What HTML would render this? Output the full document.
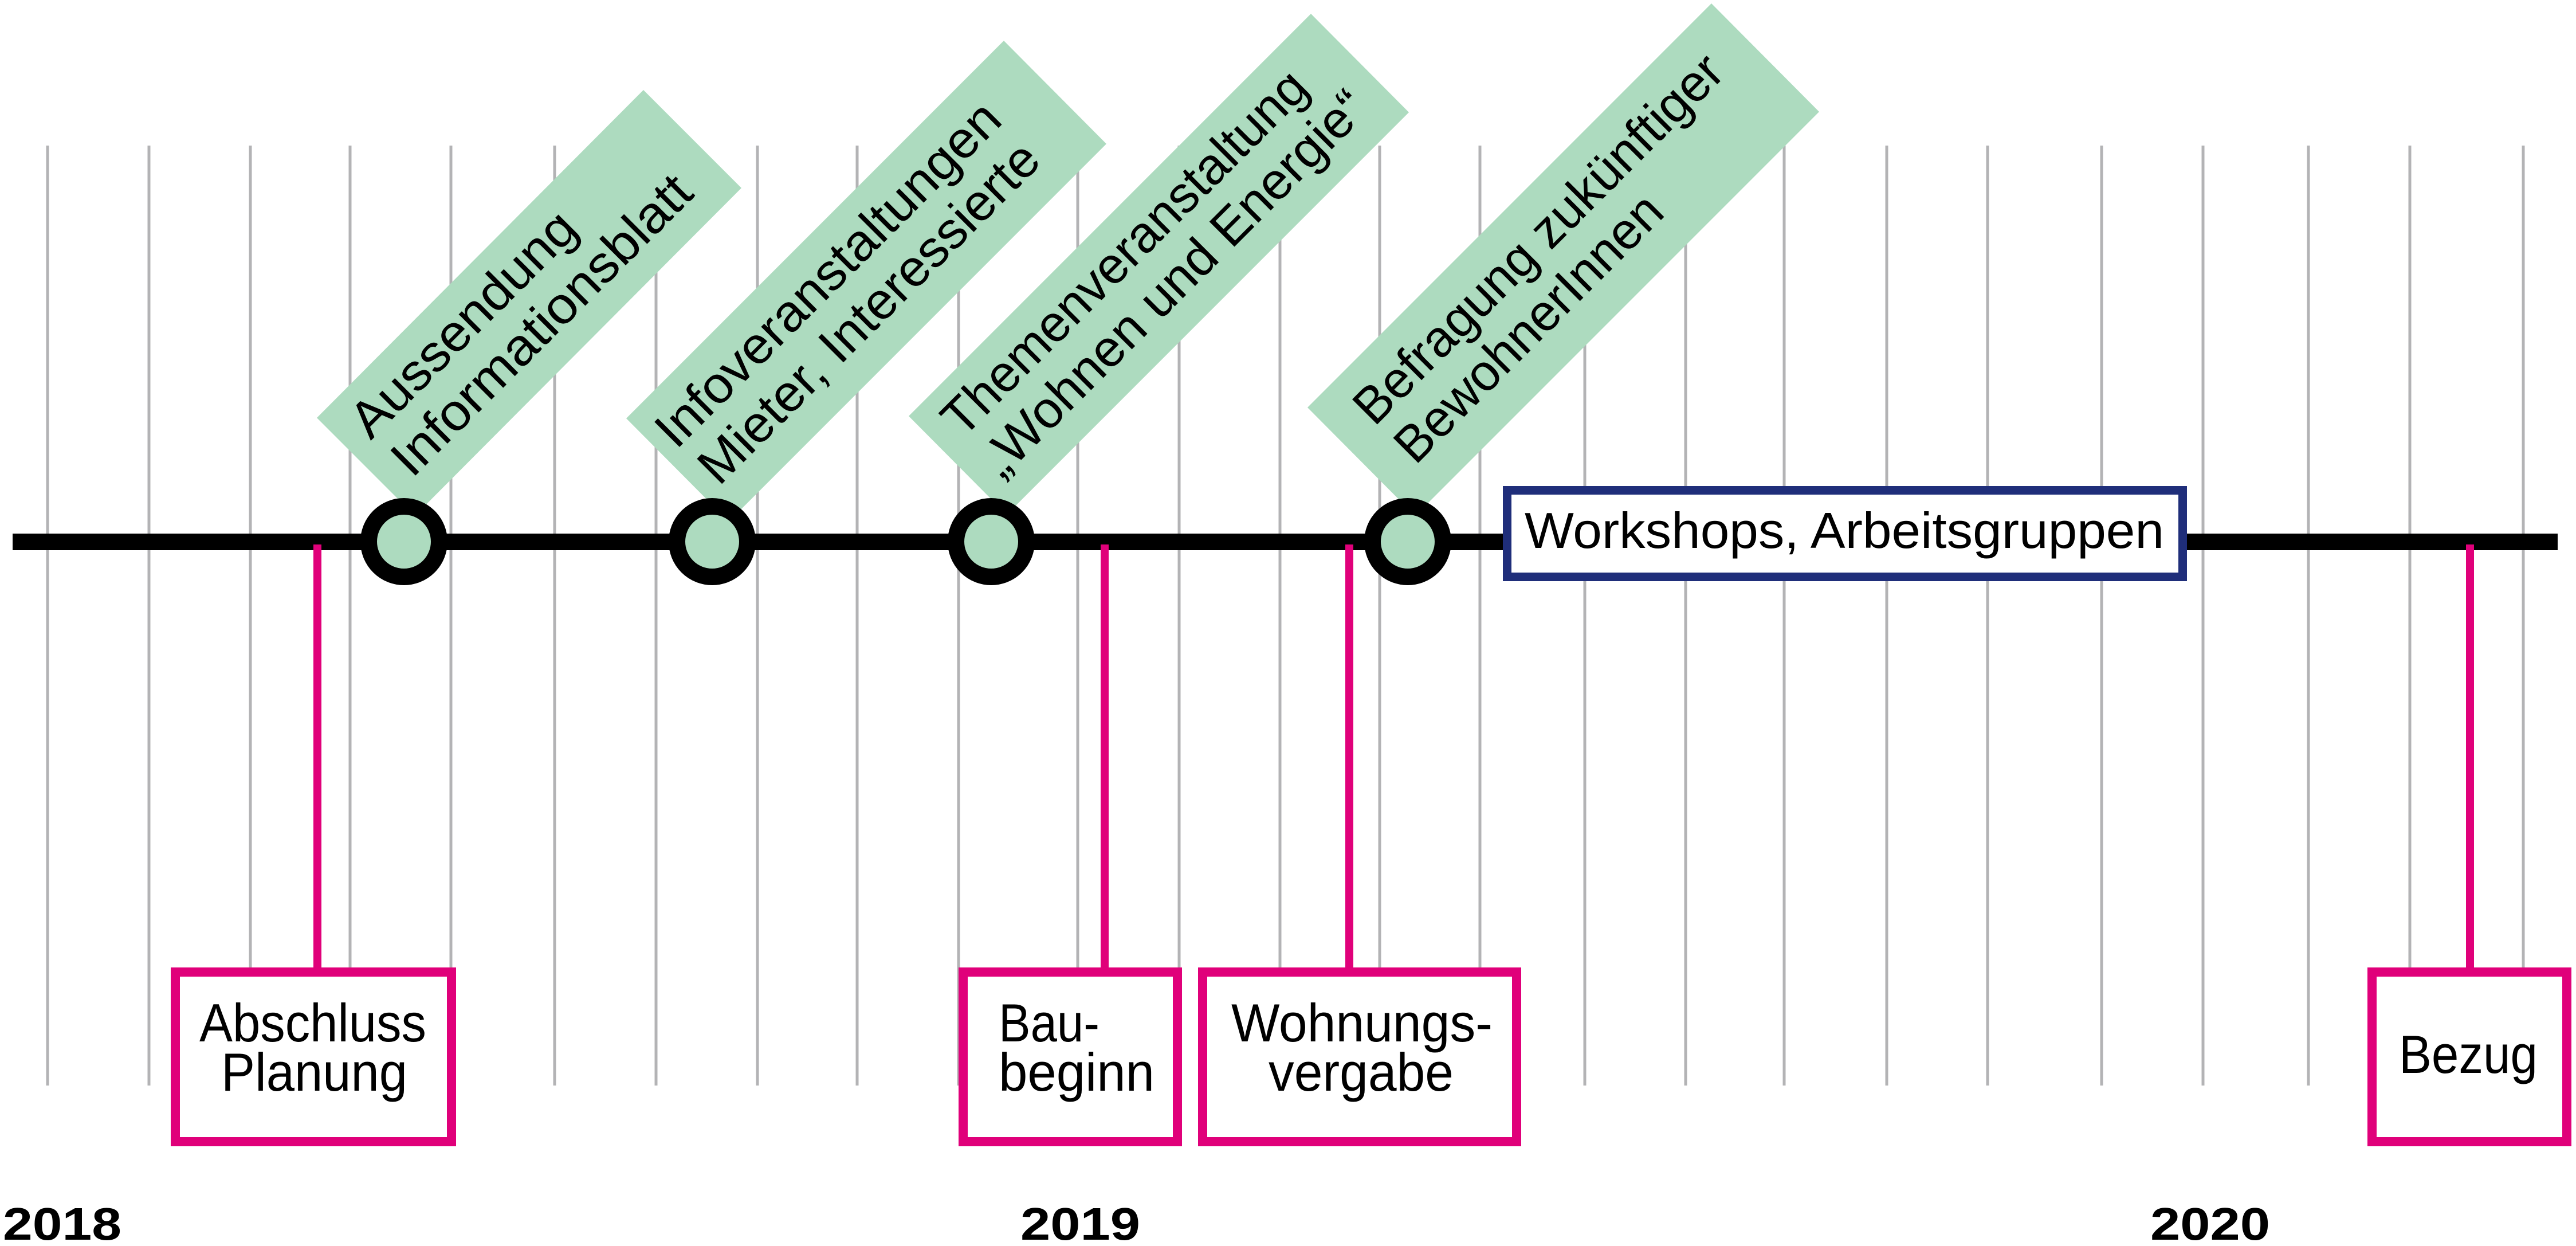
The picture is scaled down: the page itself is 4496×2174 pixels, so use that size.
<!DOCTYPE html>
<html><head><meta charset="utf-8"><style>html,body{margin:0;padding:0;background:#fff}svg{display:block}</style></head>
<body>
<svg width="4496" height="2174" viewBox="0 0 4496 2174" xmlns="http://www.w3.org/2000/svg" font-family="Liberation Sans, sans-serif">
<g stroke="#b3b3b5" stroke-width="5">
<line x1="83" y1="254" x2="83" y2="1894"/><line x1="260" y1="254" x2="260" y2="1894"/><line x1="437" y1="254" x2="437" y2="1894"/><line x1="611" y1="254" x2="611" y2="1894"/><line x1="787" y1="254" x2="787" y2="1894"/><line x1="968" y1="254" x2="968" y2="1894"/><line x1="1145" y1="254" x2="1145" y2="1894"/><line x1="1322" y1="254" x2="1322" y2="1894"/><line x1="1496" y1="254" x2="1496" y2="1894"/><line x1="1673" y1="254" x2="1673" y2="1894"/><line x1="1881" y1="254" x2="1881" y2="1894"/><line x1="2058" y1="254" x2="2058" y2="1894"/><line x1="2234" y1="254" x2="2234" y2="1894"/><line x1="2408" y1="254" x2="2408" y2="1894"/><line x1="2583" y1="254" x2="2583" y2="1894"/><line x1="2766" y1="254" x2="2766" y2="1894"/><line x1="2942" y1="254" x2="2942" y2="1894"/><line x1="3114" y1="254" x2="3114" y2="1894"/><line x1="3293" y1="254" x2="3293" y2="1894"/><line x1="3469" y1="254" x2="3469" y2="1894"/><line x1="3668" y1="254" x2="3668" y2="1894"/><line x1="3845" y1="254" x2="3845" y2="1894"/><line x1="4029" y1="254" x2="4029" y2="1894"/><line x1="4206" y1="254" x2="4206" y2="1894"/><line x1="4404" y1="254" x2="4404" y2="1894"/>
</g>
<g fill="#addbbf">
<polygon points="553,729 1123,157 1294,328 724,900"/>
<polygon points="1093,730 1752,71 1931,251 1272,910"/>
<polygon points="1586,726 2288,24 2459,196 1757,898"/>
<polygon points="2282,711 2987,6 3175,195 2470,900"/>
</g>
<g font-size="90" fill="#000">
<g transform="translate(553,729) rotate(-45)">
<text x="38" y="95" textLength="517" lengthAdjust="spacingAndGlyphs">Aussendung</text>
<text x="42" y="193" textLength="700" lengthAdjust="spacingAndGlyphs">Informationsblatt</text>
</g>
<g transform="translate(1093,730) rotate(-45)">
<text x="22" y="101" textLength="810" lengthAdjust="spacingAndGlyphs">Infoveranstaltungen</text>
<text x="30" y="199" textLength="800" lengthAdjust="spacingAndGlyphs">Mieter, Interessierte</text>
</g>
<g transform="translate(1586,726) rotate(-45)">
<text x="38" y="95" textLength="860" lengthAdjust="spacingAndGlyphs">Themenveranstaltung</text>
<text x="36" y="193" textLength="910" lengthAdjust="spacingAndGlyphs">„Wohnen und Energie“</text>
</g>
<g transform="translate(2282,711) rotate(-45)">
<text x="58" y="107" textLength="870" lengthAdjust="spacingAndGlyphs">Befragung zukünftiger</text>
<text x="61" y="205" textLength="620" lengthAdjust="spacingAndGlyphs">BewohnerInnen</text>
</g>
</g>
<rect x="22" y="931" width="4442" height="29" fill="#000"/>
<g stroke="#e0007a" stroke-width="14">
<line x1="554" y1="950" x2="554" y2="1696"/>
<line x1="1928" y1="950" x2="1928" y2="1696"/>
<line x1="2355" y1="950" x2="2355" y2="1696"/>
<line x1="4311" y1="950" x2="4311" y2="1696"/>
</g>
<g fill="#addbbf" stroke="#000" stroke-width="29">
<circle cx="705" cy="945" r="61.5"/>
<circle cx="1243" cy="945" r="61.5"/>
<circle cx="1730" cy="945" r="61.5"/>
<circle cx="2457" cy="945" r="61.5"/>
</g>
<rect x="2630.5" y="855.5" width="1179" height="151" fill="#fff" stroke="#1f2e7a" stroke-width="15"/>
<text x="2661" y="956" font-size="88" textLength="1116" lengthAdjust="spacingAndGlyphs">Workshops, Arbeitsgruppen</text>
<g fill="#fff" stroke="#e0007a" stroke-width="16">
<rect x="306" y="1696" width="482" height="296"/>
<rect x="1681" y="1696" width="374" height="296"/>
<rect x="2099" y="1696" width="548" height="296"/>
<rect x="4140" y="1696" width="340" height="296"/>
</g>
<g font-size="94" fill="#000">
<text x="348" y="1817" textLength="396" lengthAdjust="spacingAndGlyphs">Abschluss</text>
<text x="386" y="1903" textLength="325" lengthAdjust="spacingAndGlyphs">Planung</text>
<text x="1743" y="1817" textLength="176" lengthAdjust="spacingAndGlyphs">Bau-</text>
<text x="1743" y="1903" textLength="272" lengthAdjust="spacingAndGlyphs">beginn</text>
<text x="2149" y="1817" textLength="456" lengthAdjust="spacingAndGlyphs">Wohnungs-</text>
<text x="2214" y="1903" textLength="323" lengthAdjust="spacingAndGlyphs">vergabe</text>
<text x="4187" y="1872" textLength="242" lengthAdjust="spacingAndGlyphs">Bezug</text>
</g>
<g font-size="80" font-weight="bold" fill="#000">
<text x="5" y="2163" textLength="207" lengthAdjust="spacingAndGlyphs">2018</text>
<text x="1781" y="2163" textLength="209" lengthAdjust="spacingAndGlyphs">2019</text>
<text x="3753" y="2163" textLength="209" lengthAdjust="spacingAndGlyphs">2020</text>
</g>
</svg>
</body></html>
